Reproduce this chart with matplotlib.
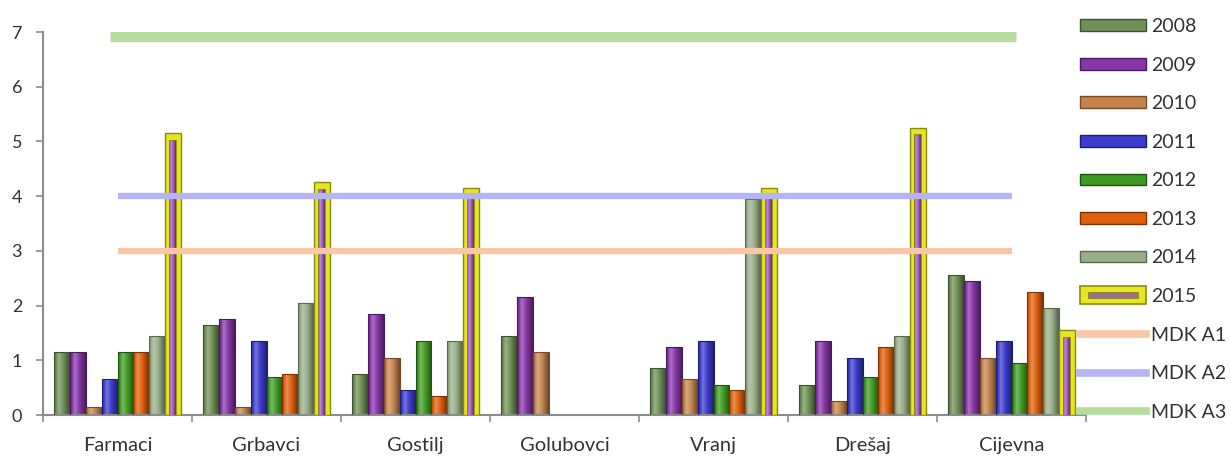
import numpy as np
import matplotlib
matplotlib.use("Agg")
import matplotlib.pyplot as plt
import matplotlib.colors as mcolors
from matplotlib.patches import Patch, Rectangle
from matplotlib.lines import Line2D
from matplotlib.legend_handler import HandlerBase

plt.rcParams['font.family'] = ['Lato', 'DejaVu Sans']

# Sampling sites and yearly measurements
sites = ["Farmaci", "Grbavci", "Gostilj", "Golubovci", "Vranj", "Drešaj", "Cijevna"]
years = ["2008", "2009", "2010", "2011", "2012", "2013", "2014", "2015"]

v2008 = [1.15, 1.65, 0.75, 1.45, 0.85, 0.55, 2.55]
v2009 = [1.15, 1.75, 1.85, 2.15, 1.25, 1.35, 2.45]
v2010 = [0.15, 0.15, 1.05, 1.15, 0.65, 0.25, 1.05]
v2011 = [0.65, 1.35, 0.45, 0.0, 1.35, 1.05, 1.35]
v2012 = [1.15, 0.70, 1.35, 0.0, 0.55, 0.70, 0.95]
v2013 = [1.15, 0.75, 0.35, 0.0, 0.45, 1.25, 2.25]
v2014 = [1.45, 2.05, 1.35, 0.0, 3.95, 1.45, 1.95]
v2015 = [5.15, 4.25, 4.15, 0.0, 4.15, 5.25, 1.55]

# Limit values (MDK classes)
mdk_labels = ["MDK A1", "MDK A2", "MDK A3"]
mdk_values = [3, 4, 7]

series = [v2008, v2009, v2010, v2011, v2012, v2013, v2014, v2015]
colors = ["#6f8f55", "#8636a6", "#c4844c", "#3b3bcc", "#3f9a22", "#de600c", "#98ae88", "#e6e620"]
edge_colors = ["#3c5230", "#4a1a60", "#7a4a24", "#1e1e70", "#1f5410", "#803006", "#5a6a50", "#8a8a10"]
inner_2015 = "#a55cc0"
mdk_colors = ["#f9c7a8", "#b4b4f6", "#b6dca0"]

fig = plt.figure(figsize=(12.31, 4.57), dpi=100)
ax = fig.add_axes([43/1231, 42/457, 1043/1231, 383/457])

x = np.arange(len(sites))
n = len(years)
bw = 0.106
offsets = (np.arange(n) - (n - 1) / 2) * bw

profile_t = np.array([0.0, 0.3, 0.6, 1.0])
profile_v = np.array([-0.25, 0.3, 0.0, -0.45])


def shade_bar(patch, color, z):
    """Fill a bar with a horizontal light/dark gradient clipped to its outline."""
    xx, yy = patch.get_xy()
    w, h = patch.get_width(), patch.get_height()
    if h <= 0:
        patch.set_visible(False)
        return
    rgb = np.array(mcolors.to_rgb(color))
    t = np.linspace(0, 1, 48)
    f = np.interp(t, profile_t, profile_v)
    img = np.empty((1, t.size, 3))
    for i, fv in enumerate(f):
        if fv >= 0:
            img[0, i] = rgb + (1 - rgb) * fv
        else:
            img[0, i] = rgb * (1 + fv)
    im = ax.imshow(img, extent=[xx, xx + w, yy, yy + h], aspect='auto',
                   interpolation='bilinear', zorder=z)
    im.set_clip_path(patch)
    patch.set_facecolor('none')
    patch.set_zorder(z + 0.1)


for i, (vals, c, ec) in enumerate(zip(series, colors, edge_colors)):
    bars = ax.bar(x + offsets[i], vals, bw, color=c, edgecolor=ec,
                  linewidth=0.8, zorder=2)
    if i < n - 1:
        for b in bars:
            shade_bar(b, c, 2.5)
    else:
        for b in bars:
            b.set_linewidth(1.0)
            b.set_zorder(3)
            if b.get_height() <= 0:
                b.set_visible(False)
        # purple core inside the highlighted 2015 bars
        core = [max(v - 0.12, 0) for v in vals]
        inner = ax.bar(x + offsets[i], core, bw * 0.42, color=inner_2015,
                       edgecolor="#8a8a10", linewidth=0.6, zorder=4)
        for b in inner:
            shade_bar(b, inner_2015, 4)

# Limit lines across the sites
ax.plot([x[0], x[-1]], [mdk_values[0]] * 2, color=mdk_colors[0], lw=4.5,
        solid_capstyle='butt', zorder=6)
ax.plot([x[0], x[-1]], [mdk_values[1]] * 2, color=mdk_colors[1], lw=4.5,
        solid_capstyle='butt', zorder=6)
ax.plot([x[0] - 0.05, x[-1] + 0.03], [mdk_values[2]] * 2, color=mdk_colors[2],
        lw=14, solid_capstyle='butt', zorder=6)

ax.set_xlim(-0.5, len(sites) - 0.5)
ax.set_ylim(0, 7)
ax.set_yticks(range(0, 8))
ax.set_xticks(x)
ax.set_xticklabels(sites)
ax.set_xticks(np.arange(len(sites) + 1) - 0.5, minor=True)

for s in ["top", "right"]:
    ax.spines[s].set_visible(False)
for s in ["left", "bottom"]:
    ax.spines[s].set_color("#8c8c8c")
    ax.spines[s].set_linewidth(1.5)

ax.tick_params(axis='y', length=5, width=1.2, color="#8c8c8c", pad=10,
               labelsize=13, labelcolor="#333333")
ax.tick_params(axis='x', which='major', length=0, pad=16, labelsize=14.5,
               labelcolor="#333333")
ax.tick_params(axis='x', which='minor', length=5, width=1.2, color="#8c8c8c")


class FramedBarHandler(HandlerBase):
    """Legend key: yellow framed box with a purple core bar."""

    def create_artists(self, legend, orig_handle, xdescent, ydescent,
                       width, height, fontsize, trans):
        pad_y = height * 0.25
        outer = Rectangle((-xdescent, -ydescent - pad_y), width, height + 2 * pad_y,
                          facecolor=colors[-1], edgecolor=edge_colors[-1],
                          linewidth=1.2, transform=trans)
        ix = width * 0.12
        iy = height * 0.22
        core = Rectangle((-xdescent + ix, -ydescent + iy), width - 2 * ix,
                         height - 2 * iy, facecolor="#9a6aa0",
                         edgecolor="#8a8a10", linewidth=0.6, transform=trans)
        return [outer, core]


# Legend
handles = []
for c, ec in zip(colors[:-1], edge_colors[:-1]):
    handles.append(Patch(facecolor=c, edgecolor=ec, linewidth=1.0))
framed = Patch(facecolor=colors[-1])
handles.append(framed)
for c in mdk_colors:
    handles.append(Line2D([], [], color=c, lw=5.5))
labels = years + mdk_labels

leg = fig.legend(handles, labels, loc='upper left',
                 bbox_to_anchor=(1080/1231, 1 - 18/457), frameon=False,
                 fontsize=14, handlelength=3.4, handleheight=0.55,
                 handletextpad=0.25, labelspacing=1.11, borderpad=0,
                 borderaxespad=0,
                 handler_map={framed: FramedBarHandler()})
for t in leg.get_texts():
    t.set_color("#333333")

fig.savefig("out.png", dpi=100)
